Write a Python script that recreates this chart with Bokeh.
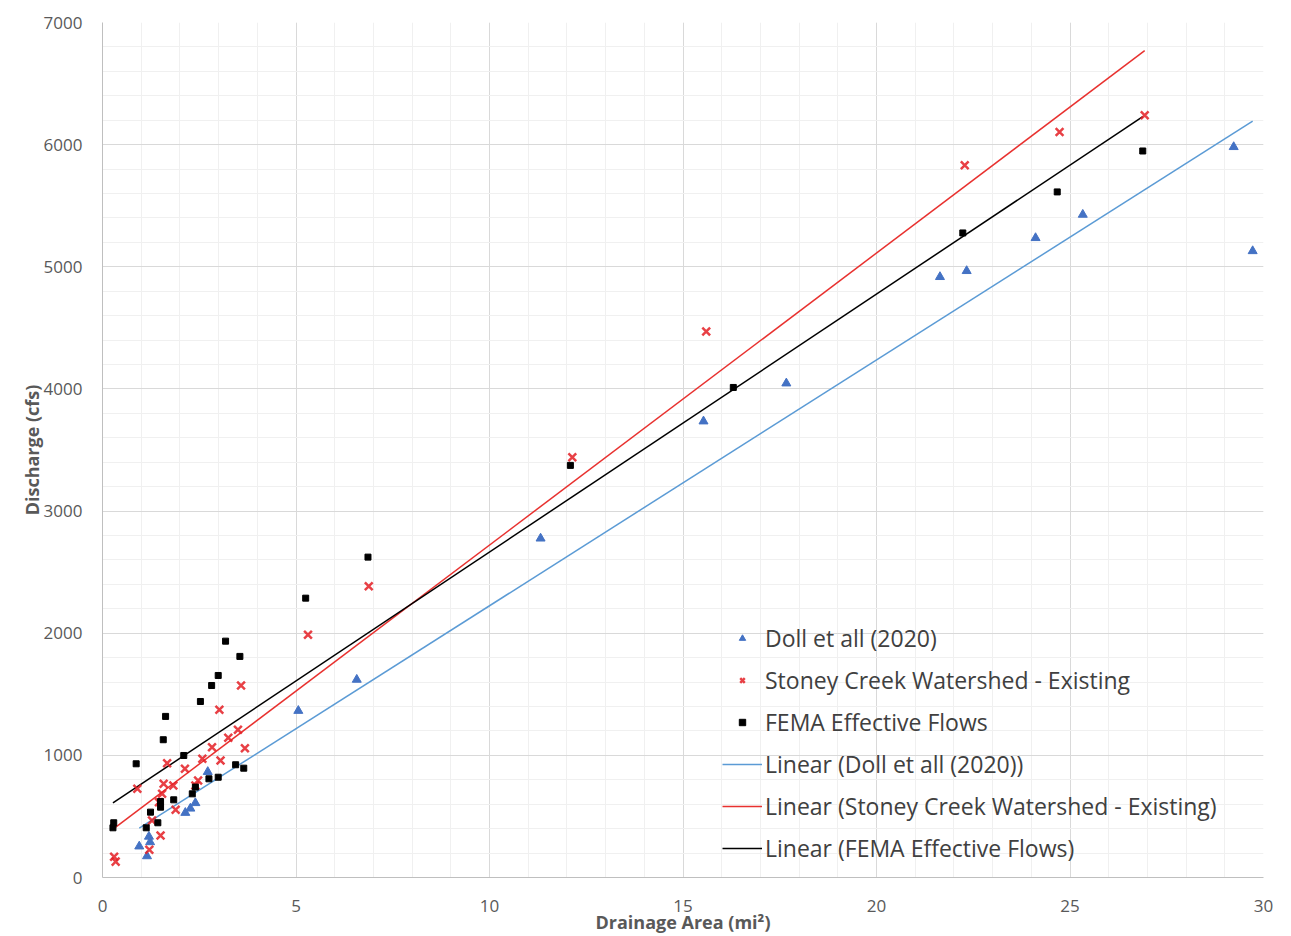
import numpy as np
from bokeh.plotting import figure
from bokeh.models import Legend, LegendItem, SingleIntervalTicker, Range1d
from bokeh.embed import file_html
from bokeh.resources import INLINE

# ---- data ----
doll_area = [0.95, 1.15, 1.20, 1.23, 2.14, 2.27, 2.40, 2.72, 5.06, 6.57,
             11.32, 15.53, 17.67, 21.64, 22.33, 24.11, 25.33, 29.23, 29.72]
doll_q = [255, 175, 335, 290, 530, 565, 610, 865, 1365, 1620,
          2776, 3735, 4046, 4917, 4966, 5236, 5427, 5981, 5129]

stoney_area = [0.30, 0.34, 0.90, 1.21, 1.28, 1.46, 1.50, 1.54, 1.58, 1.67,
               1.83, 1.89, 2.13, 2.40, 2.47, 2.58, 2.83, 3.02, 3.05, 3.25,
               3.50, 3.58, 3.68, 5.31, 6.88, 12.14, 15.60, 22.28, 24.73, 26.93]
stoney_q = [170, 130, 726, 227, 467, 617, 344, 685, 767, 936,
            753, 554, 890, 753, 794, 972, 1067, 1373, 958, 1144,
            1210, 1572, 1059, 1988, 2385, 3440, 4470, 5831, 6104, 6241]

fema_area = [0.27, 0.29, 0.87, 1.13, 1.24, 1.43, 1.50, 1.50, 1.57, 1.63,
             1.84, 2.10, 2.32, 2.40, 2.53, 2.75, 2.82, 2.99, 2.99, 3.18,
             3.44, 3.55, 3.65, 5.25, 6.86, 12.09, 16.30, 22.23, 24.67, 26.88]
fema_q = [407, 448, 931, 407, 535, 448, 622, 576, 1128, 1319,
          636, 999, 685, 740, 1441, 808, 1572, 821, 1654, 1935,
          923, 1810, 895, 2287, 2623, 3374, 4012, 5277, 5613, 5948]

series_names = ["Doll et all (2020)", "Stoney Creek Watershed - Existing", "FEMA Effective Flows"]
x_ticks_interval = 5
y_ticks_interval = 1000

FONT = "Open Sans"
GREY = "#595959"

p = figure(width=1291, height=936, output_backend="svg", toolbar_location=None,
           x_range=Range1d(0, 30), y_range=Range1d(0, 7000),
           min_border_left=102, min_border_right=28, min_border_top=22, min_border_bottom=59,
           outline_line_color=None, background_fill_color="white")

p.xaxis.ticker = SingleIntervalTicker(interval=x_ticks_interval, num_minor_ticks=5)
p.yaxis.ticker = SingleIntervalTicker(interval=y_ticks_interval, num_minor_ticks=5)
p.xgrid.ticker = p.xaxis.ticker
p.ygrid.ticker = p.yaxis.ticker
for g in (p.xgrid, p.ygrid):
    g.grid_line_color = "#D9D9D9"
    g.grid_line_width = 1
    g.minor_grid_line_color = "#F0F0F0"
    g.minor_grid_line_width = 1

for ax in (p.xaxis, p.yaxis):
    ax.axis_line_color = "#BFBFBF"
    ax.major_tick_line_color = None
    ax.minor_tick_line_color = None
    ax.major_label_text_font = FONT
    ax.major_label_text_font_size = "17px"
    ax.major_label_text_color = GREY
    ax.axis_label_text_font = FONT
    ax.axis_label_text_font_style = "bold"
    ax.axis_label_text_font_size = "18px"
    ax.axis_label_text_color = GREY

p.xaxis.axis_label = "Drainage Area (mi\u00b2)"
p.yaxis.axis_label = "Discharge (cfs)"
p.xaxis.major_label_standoff = 16
p.xaxis.axis_label_standoff = -5
p.yaxis.major_label_standoff = 14
p.yaxis.axis_label_standoff = -3

BLUE = "#4472C4"
RED = "#E41E25"
BLACK = "#000000"
BLUE_LINE = "#5B9BD5"
RED_LINE = "#E8312F"

def trend(xs, ys):
    m, b = np.polyfit(xs, ys, 1)
    x0, x1 = min(xs), max(xs)
    return [x0, x1], [m * x0 + b, m * x1 + b]

tx, ty = trend(doll_area, doll_q)
l_doll = p.line(tx, ty, line_color=BLUE_LINE, line_width=1.5)
tx, ty = trend(stoney_area, stoney_q)
l_st = p.line(tx, ty, line_color=RED_LINE, line_width=1.5)
tx, ty = trend(fema_area, fema_q)
l_fe = p.line(tx, ty, line_color=BLACK, line_width=1.5)

r_doll = p.scatter(doll_area, doll_q, marker="triangle", size=9,
                   fill_color=BLUE, line_color=BLUE)
r_st = p.scatter(stoney_area, stoney_q, marker="x", size=11, line_width=2.5,
                 line_color=RED, line_alpha=0.85)
r_fe = p.scatter(fema_area, fema_q, marker="square", size=6,
                 fill_color=BLACK, line_color=BLACK)

legend = Legend(items=[
    LegendItem(label=series_names[0], renderers=[r_doll]),
    LegendItem(label=series_names[1], renderers=[r_st]),
    LegendItem(label=series_names[2], renderers=[r_fe]),
    LegendItem(label="Linear (" + series_names[0] + ")", renderers=[l_doll]),
    LegendItem(label="Linear (" + series_names[1] + ")", renderers=[l_st]),
    LegendItem(label="Linear (" + series_names[2] + ")", renderers=[l_fe]),
], location=(620, 13))
legend.border_line_color = None
legend.background_fill_alpha = 0
legend.label_text_font = FONT
legend.label_text_font_size = "23px"
legend.label_text_color = "#404040"
legend.glyph_width = 40
legend.glyph_height = 16
legend.label_height = 20
legend.label_standoff = 3
legend.spacing = 10
legend.padding = 0
legend.margin = 0
p.add_layout(legend)

open("out.html", "w").write(file_html(p, INLINE))
